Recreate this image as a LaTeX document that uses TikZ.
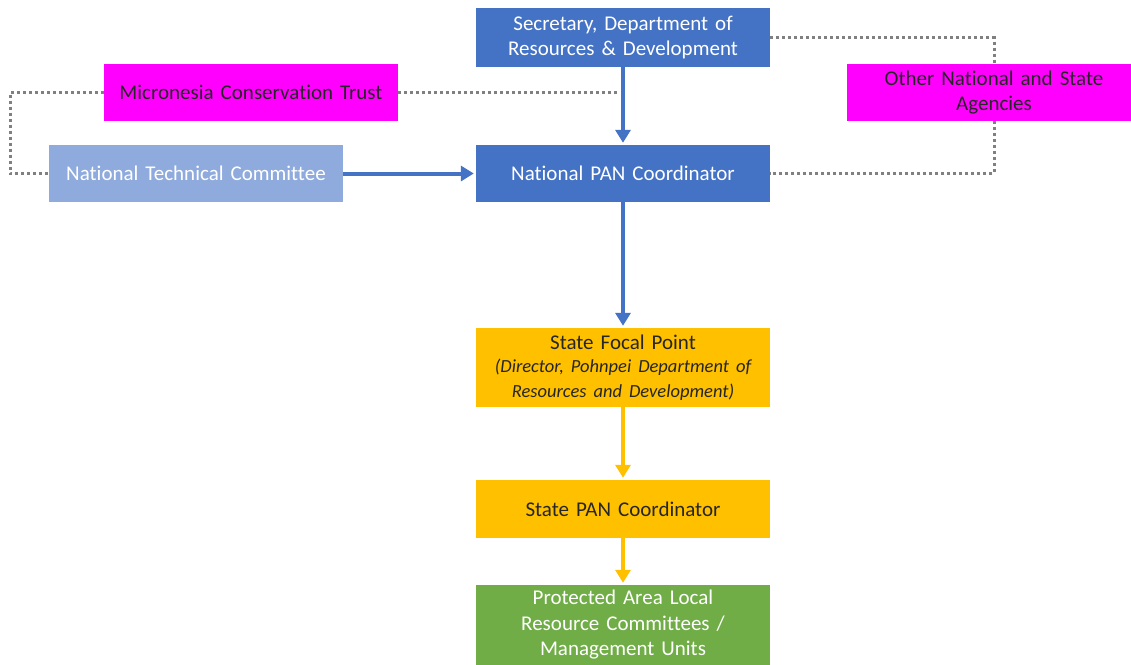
\documentclass[tikz,border=0pt]{standalone}
\usepackage{fontspec}
\setmainfont{Carlito}[Ligatures=NoCommon]
\usetikzlibrary{arrows.meta}
\definecolor{cblue}{HTML}{4472C4}
\definecolor{clight}{HTML}{8FAADC}
\definecolor{cmag}{HTML}{FF00FF}
\definecolor{cyel}{HTML}{FFC000}
\definecolor{cgreen}{HTML}{70AD47}
\definecolor{cdark}{HTML}{262626}
\definecolor{cdot}{HTML}{808080}
\begin{document}
\begin{tikzpicture}[x=1pt,y=-1pt,
  box/.style={rectangle, minimum width=294pt, text width=290pt, align=center, inner sep=0pt, font=\fontsize{21}{25.5}\selectfont},
  bluebox/.style={box, fill=cblue, text=white},
  lightbox/.style={box, fill=clight, text=white},
  magbox/.style={box, fill=cmag, text=cdark},
  yelbox/.style={box, fill=cyel, text=cdark},
  greenbox/.style={box, fill=cgreen, text=white},
  bluearrow/.style={draw=cblue, line width=4pt, shorten >=2pt, -{Triangle[length=13pt,width=15pt]}},
  yelarrow/.style={draw=cyel, line width=4pt, shorten >=2pt, -{Triangle[length=13pt,width=15pt]}},
  dotline/.style={draw=cdot, line width=3pt, dash pattern=on 3pt off 3pt}
]
\clip (0,0) rectangle (1131,664);
\fill[white] (0,0) rectangle (1131,664);

\node[bluebox, minimum height=59pt] (sec) at (623,37.5) {Secretary, Department of\\Resources \& Development};
\node[bluebox, minimum height=57pt] (npc) at (623,173.5) {National PAN Coordinator};
\node[magbox, minimum height=57pt] (mct) at (251,92.5) {Micronesia Conservation Trust};
\node[lightbox, minimum height=57pt] (ntc) at (196,173.5) {National Technical Committee};
\node[magbox, minimum height=57pt] (oth) at (994,92.5) {Other National and State\\Agencies};
\node[yelbox, minimum height=79pt] (sfp) at (623,367.5) {State Focal Point\\{\fontsize{18.5}{23}\selectfont\itshape (Director, Pohnpei Department of\\Resources and Development)}};
\node[yelbox, minimum height=58pt] (spc) at (623,509) {State PAN Coordinator};
\node[greenbox, minimum height=80pt] (pa) at (623,625) {Protected Area Local\\Resource Committees /\\Management Units};

\coordinate (mctend) at ([xshift=-3pt]mct.east -| sec.south);
\coordinate (lft1) at (10,92.5);
\coordinate (lft2) at (10,173.5);
\coordinate (rt1) at (994,37.5);
\coordinate (rt2) at (994,173.5);

\draw[dotline] (mct.east) -- (mctend);
\draw[dotline] (mct.west) -- (lft1) -- (lft2) -- (ntc.west);
\draw[dotline] (sec.east) -- (rt1) -- (oth.north);
\draw[dotline] (oth.south) -- (rt2) -- (npc.east);

\draw[bluearrow] (sec.south) -- (npc.north);
\draw[bluearrow] (ntc.east) -- (npc.west);
\draw[bluearrow] (npc.south) -- (sfp.north);
\draw[yelarrow] (sfp.south) -- (spc.north);
\draw[yelarrow] (spc.south) -- (pa.north);
\end{tikzpicture}
\end{document}
